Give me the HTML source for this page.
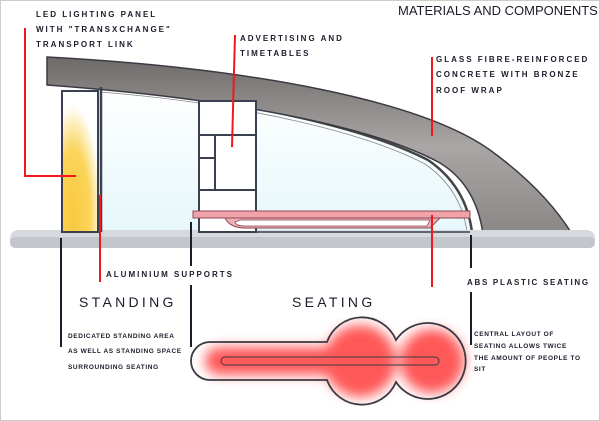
<!DOCTYPE html>
<html><head><style>
html,body{margin:0;padding:0;background:#fff;}
#c{position:relative;width:600px;height:421px;overflow:hidden;background:#fff;font-family:"Liberation Sans",sans-serif;color:#1a1d2a;}
.t{position:absolute;font-size:8px;letter-spacing:2px;white-space:nowrap;font-weight:bold;line-height:10px;}
.s{position:absolute;font-size:6.5px;letter-spacing:0.6px;white-space:nowrap;font-weight:bold;line-height:8px;}
.big{position:absolute;font-size:14px;letter-spacing:3.3px;white-space:nowrap;line-height:16px;}
</style></head><body><div id="c">
<svg width="600" height="421" style="position:absolute;left:0;top:0">
<defs>
<linearGradient id="roof" x1="0" y1="0" x2="0" y2="1"><stop offset="0" stop-color="#6e6a69"/><stop offset="0.5" stop-color="#a9a6a5"/><stop offset="1" stop-color="#8a8786"/></linearGradient>
<linearGradient id="glass" x1="0" y1="0" x2="0" y2="1"><stop offset="0" stop-color="#ffffff"/><stop offset="1" stop-color="#e6f7fb"/></linearGradient>
<radialGradient id="led" cx="0.3" cy="0.9" r="0.8"><stop offset="0" stop-color="#f9c93e"/><stop offset="0.6" stop-color="#fbd45a"/><stop offset="1" stop-color="#fff"/></radialGradient>
<filter id="bl"><feGaussianBlur stdDeviation="6"/></filter>
</defs>
<rect x="0.5" y="0.5" width="599" height="420" fill="none" stroke="#ccc"/>
<!-- glass -->
<path d="M100,88 C250,100 370,130 428,160 Q466,186 472,232 L100,232 Z" fill="url(#glass)"/>
<path d="M100,88 C250,100 370,130 428,160 Q466,186 472,232" fill="none" stroke="#444" stroke-width="2.5"/>
<path d="M100,92 C250,104 368,134 425,164 Q461,189 467,232" fill="none" stroke="#888" stroke-width="0.8"/>
<!-- roof -->
<path d="M47,57 C250,68 420,100 490,150 Q545,190 572,234 L483,234 Q476,185 440,163 C380,130 250,100 47,85 Z" fill="url(#roof)" stroke="#3a3a44" stroke-width="1.5"/>
<!-- ground -->
<rect x="10" y="230" width="585" height="18" rx="8" fill="#d6dadf"/>
<rect x="10" y="237" width="585" height="11" rx="5" fill="#c3c7cd"/>
<!-- LED panel -->
<rect x="62" y="91" width="36" height="141" fill="url(#led)" stroke="#3a4050" stroke-width="2"/>
<line x1="101" y1="87" x2="101" y2="232" stroke="#3a4050" stroke-width="2.5"/>
<!-- advertising -->
<rect x="199" y="101" width="57" height="131" fill="#fff" stroke="#3a4050" stroke-width="2"/>
<line x1="199" y1="135" x2="256" y2="135" stroke="#3a4050" stroke-width="2"/>
<line x1="199" y1="190" x2="256" y2="190" stroke="#3a4050" stroke-width="2"/>
<line x1="215" y1="135" x2="215" y2="190" stroke="#3a4050" stroke-width="2"/>
<line x1="199" y1="158" x2="215" y2="158" stroke="#3a4050" stroke-width="2"/>
<line x1="199" y1="232" x2="470" y2="232" stroke="#3a4050" stroke-width="1.5"/>
<!-- bench -->
<rect x="193" y="211" width="277" height="7" fill="#f2a3aa" stroke="#8a4a55" stroke-width="1"/>
<path d="M225,218 Q230,228 245,228 L430,228 L440,218 Z" fill="#f0b0b6" stroke="#8a4a55" stroke-width="1"/>
<path d="M235,222 Q236,226 245,226 L427,226 L430,220 L240,220 Z" fill="#fff" stroke="#8a4a55" stroke-width="0.8"/>
<!-- red leaders -->
<g stroke="#f01818" stroke-width="2" fill="none">
<polyline points="25,28 25,176 76,176"/>
<line x1="235" y1="35" x2="232" y2="147"/>
<line x1="432" y1="57" x2="432" y2="136"/>
<line x1="100" y1="195" x2="100" y2="282"/>
<line x1="432" y1="215" x2="432" y2="287"/>
</g>
<!-- black leaders -->
<g stroke="#1a1d2a" stroke-width="2">
<line x1="61" y1="238" x2="61" y2="347"/>
<line x1="191" y1="222" x2="191" y2="266"/>
<line x1="191" y1="285" x2="191" y2="347"/>
<line x1="471" y1="235" x2="471" y2="268"/>
<line x1="471" y1="292" x2="471" y2="345"/>
</g>
<!-- seating plan -->
<g filter="url(#bl)" fill="#ff3b3b" opacity="0.85">
<rect x="205" y="347" width="150" height="28" rx="14"/>
<circle cx="360" cy="361" r="36"/>
<circle cx="432" cy="361" r="32"/>
</g>
<path d="M210,342 L327,342 A37,37 0 0 1 396,340 A38,38 0 1 1 396,382 A37,37 0 0 1 327,380 L210,380 A19,19 0 0 1 210,342 Z" fill="none" stroke="#3a3a44" stroke-width="1.8"/>
<rect x="221" y="357" width="218" height="8" rx="4" fill="none" stroke="#3a3a44" stroke-width="1"/>
</svg>
<div style="position:absolute;left:398px;top:3px;font-size:13px;white-space:nowrap;">MATERIALS AND COMPONENTS</div>
<div class="t" style="left:36px;top:10px">LED LIGHTING PANEL</div>
<div class="t" style="left:36px;top:25px">WITH "TRANSXCHANGE"</div>
<div class="t" style="left:36px;top:40px">TRANSPORT LINK</div>
<div class="t" style="left:240px;top:34px">ADVERTISING AND</div>
<div class="t" style="left:240px;top:49px">TIMETABLES</div>
<div class="t" style="left:436px;top:55px">GLASS FIBRE-REINFORCED</div>
<div class="t" style="left:436px;top:70px">CONCRETE WITH BRONZE</div>
<div class="t" style="left:436px;top:86px">ROOF WRAP</div>
<div class="t" style="left:106px;top:270px">ALUMINIUM SUPPORTS</div>
<div class="t" style="left:467px;top:278px;letter-spacing:1.7px">ABS PLASTIC SEATING</div>
<div class="big" style="left:79px;top:294px">STANDING</div>
<div class="big" style="left:292px;top:294px">SEATING</div>
<div class="s" style="left:68px;top:333px">DEDICATED STANDING AREA</div>
<div class="s" style="left:68px;top:348px">AS WELL AS STANDING SPACE</div>
<div class="s" style="left:68px;top:364px">SURROUNDING SEATING</div>
<div class="s" style="left:474px;top:331px">CENTRAL LAYOUT OF</div>
<div class="s" style="left:474px;top:343px">SEATING ALLOWS TWICE</div>
<div class="s" style="left:474px;top:355px">THE AMOUNT OF PEOPLE TO</div>
<div class="s" style="left:474px;top:366px">SIT</div>
</div></body></html>
